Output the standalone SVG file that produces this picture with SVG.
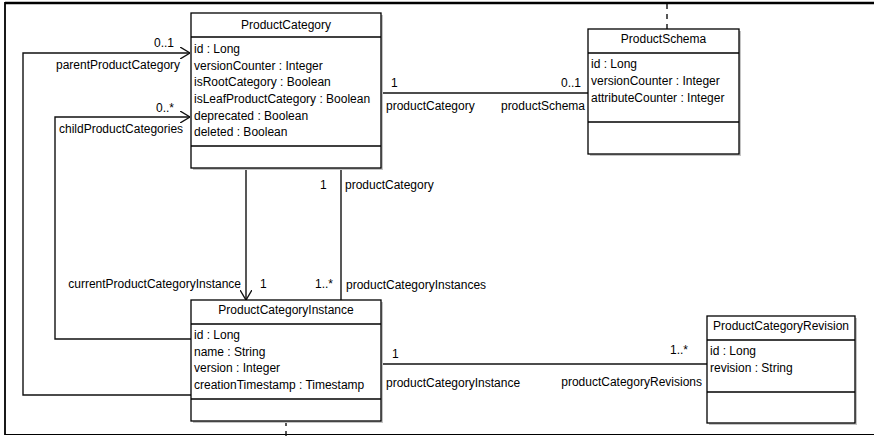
<svg xmlns="http://www.w3.org/2000/svg" width="874" height="436" viewBox="0 0 874 436">
  <style>
    .box{fill:#fff;stroke:#000;stroke-width:1.3}
    .shadow{fill:#c4c4c4}
    .sep{stroke:#000;stroke-width:1.3}
    text{font-family:"Liberation Sans",Arial,sans-serif;font-size:12px;fill:#000}
    .title{text-anchor:middle}
    .end{text-anchor:end}
    .edge{fill:none;stroke:#111;stroke-width:1.4}
    .dash{fill:none;stroke:#111;stroke-width:1.4;stroke-dasharray:5 5}
    .frame{fill:none;stroke:#000}
  </style>
  <defs>
    <marker id="open" viewBox="0 0 10 12" refX="10" refY="6" markerWidth="10" markerHeight="12" markerUnits="userSpaceOnUse" orient="auto">
      <path d="M0,0 L10,6 L0,12" fill="none" stroke="#111" stroke-width="1.4"/>
    </marker>
  </defs>

  <!-- outer frame -->
  <g id="frame">
    <line class="frame" x1="5" y1="3" x2="874" y2="3" stroke-width="2.5"/>
    <line class="frame" x1="5" y1="2" x2="5" y2="435" stroke-width="1.8"/>
    <line class="frame" x1="5" y1="434.5" x2="874" y2="434.5" stroke="#555" stroke-width="1"/>
  </g>

  <!-- associations -->
  <g id="connectors">
    <line class="dash" x1="667" y1="4" x2="667" y2="29"/>
    <line class="dash" x1="286" y1="421" x2="286" y2="436"/>
    <path class="edge" d="M381,93 H588"/>
    <path class="edge" d="M191,395 H23 V53 H190" marker-end="url(#open)"/>
    <path class="edge" d="M191,339 H55 V117 H190" marker-end="url(#open)"/>
    <path class="edge" d="M246,168 V300" marker-end="url(#open)"/>
    <path class="edge" d="M341,168 V300"/>
    <path class="edge" d="M381,364 H707"/>

    <text x="154" y="47">0..1</text>
    <text x="56" y="69">parentProductCategory</text>
    <text x="156" y="112">0..*</text>
    <text x="59" y="133">childProductCategories</text>

    <text x="391" y="87">1</text>
    <text x="386" y="110">productCategory</text>
    <text x="581" y="87" class="end">0..1</text>
    <text x="585" y="110" class="end">productSchema</text>

    <text x="320" y="189">1</text>
    <text x="345" y="189">productCategory</text>
    <text x="241" y="288" class="end">currentProductCategoryInstance</text>
    <text x="260" y="288">1</text>
    <text x="315" y="288">1..*</text>
    <text x="346" y="289">productCategoryInstances</text>

    <text x="392" y="358">1</text>
    <text x="386" y="387">productCategoryInstance</text>
    <text x="688" y="354" class="end">1..*</text>
    <text x="702" y="386" class="end">productCategoryRevisions</text>
  </g>

  <g id="ProductCategory">
    <rect class="shadow" x="193" y="15" width="190" height="155"/>
    <rect class="box" x="191" y="13" width="190" height="155"/>
    <line class="sep" x1="191" y1="37" x2="381" y2="37"/>
    <line class="sep" x1="191" y1="146" x2="381" y2="146"/>
    <text class="title" x="286" y="29">ProductCategory</text>
    <text x="194" y="53">id : Long</text>
    <text x="194" y="70">versionCounter : Integer</text>
    <text x="194" y="86">isRootCategory : Boolean</text>
    <text x="194" y="103">isLeafProductCategory : Boolean</text>
    <text x="194" y="120">deprecated : Boolean</text>
    <text x="194" y="136">deleted : Boolean</text>
  </g>

  <g id="ProductSchema">
    <rect class="shadow" x="590" y="31" width="151" height="125"/>
    <rect class="box" x="588" y="29" width="151" height="125"/>
    <line class="sep" x1="588" y1="53" x2="739" y2="53"/>
    <line class="sep" x1="588" y1="122" x2="739" y2="122"/>
    <text class="title" x="663.5" y="43">ProductSchema</text>
    <text x="591" y="68">id : Long</text>
    <text x="591" y="85">versionCounter : Integer</text>
    <text x="591" y="102">attributeCounter : Integer</text>
  </g>

  <g id="ProductCategoryInstance">
    <rect class="shadow" x="193" y="302" width="190" height="121"/>
    <rect class="box" x="191" y="300" width="190" height="121"/>
    <line class="sep" x1="191" y1="324" x2="381" y2="324"/>
    <line class="sep" x1="191" y1="399" x2="381" y2="399"/>
    <text class="title" x="286" y="314">ProductCategoryInstance</text>
    <text x="194" y="339">id : Long</text>
    <text x="194" y="356">name : String</text>
    <text x="194" y="372">version : Integer</text>
    <text x="194" y="389">creationTimestamp : Timestamp</text>
  </g>

  <g id="ProductCategoryRevision">
    <rect class="shadow" x="709" y="318" width="148" height="107"/>
    <rect class="box" x="707" y="316" width="148" height="107"/>
    <line class="sep" x1="707" y1="340" x2="855" y2="340"/>
    <line class="sep" x1="707" y1="392" x2="855" y2="392"/>
    <text class="title" x="781" y="330">ProductCategoryRevision</text>
    <text x="710" y="355">id : Long</text>
    <text x="710" y="372">revision : String</text>
  </g>
</svg>
